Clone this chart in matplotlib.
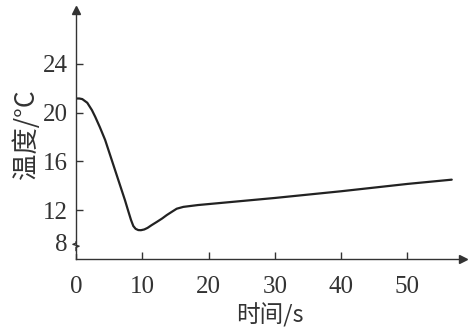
import matplotlib
matplotlib.use("Agg")
import matplotlib.pyplot as plt

# data
time_s = [0, 0.5, 0.95, 1.7, 2.4, 2.9, 3.6, 4.4, 5.4, 6.4, 7.4, 7.9, 8.3, 8.65, 9.0, 9.4, 9.8, 10.3, 10.8,
          11.4, 12.2, 13.0, 13.7, 14.5, 15.2, 16.2, 18.4, 30, 40, 50, 56.7]
temp_c = [21.15, 21.15, 21.1, 20.8, 20.2, 19.65, 18.8, 17.75, 16.1, 14.45, 12.8, 11.9, 11.2, 10.7, 10.47, 10.37, 10.36, 10.42, 10.55,
          10.77, 11.04, 11.32, 11.6, 11.88, 12.12, 12.27, 12.42, 13.0, 13.55, 14.15, 14.5]
xticks = [0, 10, 20, 30, 40, 50]
ytick_labels = ["8", "12", "16", "20", "24"]
ytick_vals = [9.35, 12, 16, 20, 24]

serif = ["Liberation Serif", "DejaVu Serif"]
cjk = ["Noto Sans CJK SC", "Liberation Serif"]

fig = plt.figure(figsize=(4.68, 3.30), dpi=100)
ax = fig.add_axes([76/468, 71/330, (463-76)/468, (320-71)/330])
ax.plot(time_s, temp_c, color="#222222", lw=1.6, solid_capstyle="round", solid_joinstyle="round")
ax.set_xlim(0, 58.4)
ax.set_ylim(8, 28.4)
for s in ["top", "right"]:
    ax.spines[s].set_visible(False)
for s in ["left", "bottom"]:
    ax.spines[s].set_color("#333333")
    ax.spines[s].set_linewidth(1.0)
ax.set_xticks(xticks)
ax.set_xticklabels([str(v) for v in xticks], fontfamily=serif, fontsize=18, color="#333333")
ax.set_yticks(ytick_vals)
ax.set_yticklabels(ytick_labels, fontfamily=serif, fontsize=18, color="#333333")
ax.tick_params(direction="in", length=5, width=1, color="#333333")
ax.tick_params(axis="x", pad=12)
ax.tick_params(axis="y", pad=6)
ax.yaxis.get_major_ticks()[0].tick1line.set_visible(False)

# arrowheads
ax.plot(1, 0, ">", transform=ax.transAxes, color="#333333", ms=6, clip_on=False)
ax.plot(0, 1, "^", transform=ax.transAxes, color="#333333", ms=6, clip_on=False)

# axis break zigzag
zx = [0, 0, 0.008, -0.008, 0, 0]
zy = [8.7, 8.95, 9.05, 9.2, 9.3, 9.4]
ax.plot([0, 0], [8.6, 9.5], color="white", lw=3, clip_on=False, transform=ax.get_yaxis_transform())
ax.plot(zx, zy, color="#333333", lw=1.0, clip_on=False, transform=ax.get_yaxis_transform())

ax.set_xlabel("时间/s", fontfamily=cjk, fontsize=17, color="#333333", labelpad=4)
ax.set_ylabel("温度/°C", fontfamily=cjk, fontsize=19, color="#333333", labelpad=2)

fig.savefig("out.png", dpi=100, facecolor="white")
